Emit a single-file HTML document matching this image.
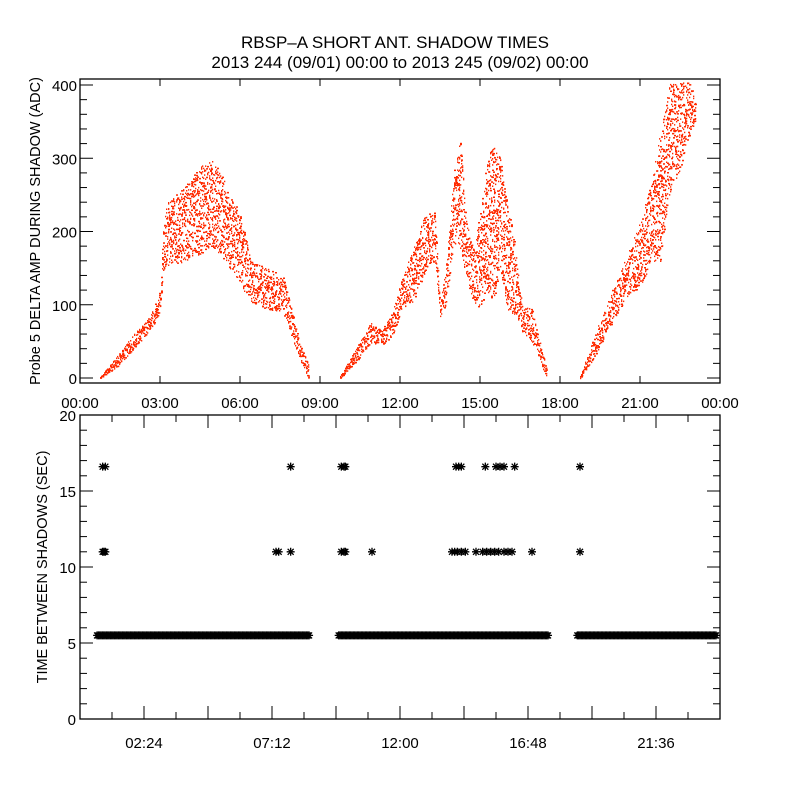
<!DOCTYPE html>
<html><head><meta charset="utf-8"><style>
body{margin:0;background:#fff}
svg text{font-family:"Liberation Sans",sans-serif;fill:#000}
</style></head><body>
<svg id="c" width="800" height="800" xmlns="http://www.w3.org/2000/svg">
<rect width="800" height="800" fill="#fff"/>
<text x="395" y="48" font-size="17" text-anchor="middle">RBSP–A SHORT ANT. SHADOW TIMES</text>
<text x="400" y="68" font-size="17" text-anchor="middle">2013 244 (09/01) 00:00 to 2013 245 (09/02) 00:00</text>
<g id="topPanel"></g>
<g id="botPanel"></g>
</svg>
<script>
// Top panel data: envelope of scatter (hours, low, high ADC)
const ampHours = [0.75,1.38,2.0,2.63,3.0,3.1,3.25,3.9,4.5,4.9,5.25,5.6,6.0,6.4,7.0,7.6,7.9,8.25,8.56,
  null,
  9.75,10.4,10.9,11.3,11.7,12.1,12.5,12.9,13.3,13.5,13.75,14.0,14.25,14.5,14.75,15.0,15.25,15.5,15.75,16.0,16.3,16.6,16.9,17.2,17.5,
  null,
  18.75,19.25,19.75,20.25,20.6,21.0,21.4,21.75,22.1,22.5,22.9,23.1];
const ampLow = [0,15,40,65,90,140,150,160,170,180,170,150,130,100,95,90,60,25,0,
  null,
  0,25,49,45,58,95,106,140,160,84,104,185,177,130,104,95,117,104,150,95,86,60,53,27,0,
  null,
  0,27,63,95,117,123,158,158,253,286,340,350];
const ampHigh = [2,30,60,85,120,200,240,260,290,300,285,250,225,160,150,140,100,45,20,
  null,
  3,45,76,65,90,140,180,220,230,100,164,280,327,210,177,230,300,320,300,240,185,95,100,58,14,
  null,
  3,55,104,145,177,213,267,335,404,404,404,370];
// Bottom panel data
const baseSegStart = [0.64, 9.7, 18.65];
const baseSegEnd = [8.7, 17.7, 24.0];
const baseValue = 5.5;
const outHours = [0.85,0.95,7.9,9.8,9.9,9.95,14.1,14.2,14.3,15.2,15.6,15.75,15.9,16.3,18.75,
  0.85,0.9,0.95,7.35,7.45,7.9,9.8,9.9,9.95,10.95,13.95,14.05,14.15,14.3,14.45,14.85,15.1,15.25,15.4,15.55,15.7,15.9,16.05,16.2,16.95,18.75];
const outValues = [16.6,16.6,16.6,16.6,16.6,16.6,16.6,16.6,16.6,16.6,16.6,16.6,16.6,16.6,16.6,
  11,11,11,11,11,11,11,11,11,11,11,11,11,11,11,11,11,11,11,11,11,11,11,11,11,11];
const topXTicks = ["00:00","03:00","06:00","09:00","12:00","15:00","18:00","21:00","00:00"];
const topYTicks = [0,100,200,300,400];
const botXTicks = ["02:24","07:12","12:00","16:48","21:36"];
const botYTicks = [0,5,10,15,20];

const NS="http://www.w3.org/2000/svg";
function mk(tag,attrs,parent){const e=document.createElementNS(NS,tag);for(const k in attrs)e.setAttribute(k,attrs[k]);parent.appendChild(e);return e;}
function hash(n){const s=Math.sin(n*12.9898+78.233)*43758.5453;return s-Math.floor(s);}
const L=80,R=720;
const T1=79,B1=383, T2=415,B2=719;
const xs=h=>L+h/24*(R-L);
const y1=v=>378-v*0.7325;
const y2=v=>B2-v*(B2-T2)/20;

const topG=document.getElementById('topPanel');
const botG=document.getElementById('botPanel');

let fr=mk('rect',{x:L,y:T1,width:R-L,height:B1-T1,fill:'none',stroke:'#000','stroke-width':1.3},topG);


topXTicks.forEach((t,i)=>{
  const x=xs(i*3);
  mk('line',{x1:x,y1:T1,x2:x,y2:T1+7,stroke:'#000'},topG);
  mk('line',{x1:x,y1:B1,x2:x,y2:B1-7,stroke:'#000'},topG);
  const tx=mk('text',{x:x,y:408,'font-size':15,'text-anchor':'middle'},topG);
  tx.textContent=t;
  
  
});
for(let v=0;v<=400;v+=20){
  const y=y1(v), len=(v%100===0)?13:7;
  mk('line',{x1:L,y1:y,x2:L+len,y2:y,stroke:'#000'},topG);
  mk('line',{x1:R,y1:y,x2:R-len,y2:y,stroke:'#000'},topG);
}
topYTicks.forEach(v=>{
  const tx=mk('text',{x:L-3,y:y1(v)+6,'font-size':15,'text-anchor':'end'},topG);
  tx.textContent=v;
  
  
});
let yl=mk('text',{x:0,y:0,'font-size':14.5,'text-anchor':'middle',transform:'translate(40,231) rotate(-90)'},topG);
yl.textContent='Probe 5 DELTA AMP DURING SHADOW (ADC)';



const sc=mk('g',{fill:'#ff2a00'},topG);


let k=0;
for(let i=0;i<ampHours.length-1;i++){
  if(ampHours[i]===null||ampHours[i+1]===null) continue;
  const xa=xs(ampHours[i]), xb=xs(ampHours[i+1]);
  for(let x=Math.ceil(xa);x<xb;x++){
    const f=(x-xa)/(xb-xa);
    const lo=ampLow[i]+f*(ampLow[i+1]-ampLow[i]);
    const hi=ampHigh[i]+f*(ampHigh[i+1]-ampHigh[i]);
    const ya=y1(lo), yb=y1(hi);
    const span=ya-yb;
    const n=Math.max(3,Math.round(span/7)+3);
    for(let j=0;j<n;j++){
      k++;
      const u=hash(k);
      const w=hash(k+0.5)<0.3?2:1.3;
      const yy=ya-u*span;
      mk('rect',{x:x,y:yy.toFixed(1),width:w,height:1.5},sc);
    }
  }
}

fr=mk('rect',{x:L,y:T2,width:R-L,height:B2-T2,fill:'none',stroke:'#000','stroke-width':1.3},botG);


for(let i=1;i<20;i++){
  const x=xs(i*1.2), len=(i%2===0)?13:7;
  mk('line',{x1:x,y1:T2,x2:x,y2:T2+len,stroke:'#000'},botG);
  mk('line',{x1:x,y1:B2,x2:x,y2:B2-len,stroke:'#000'},botG);
}
botXTicks.forEach((t,i)=>{
  const tx=mk('text',{x:xs(2.4+i*4.8),y:748,'font-size':15,'text-anchor':'middle'},botG);
  tx.textContent=t;
  
  
});
for(let v=0;v<=20;v+=1){
  const y=y2(v), len=(v%5===0)?13:7;
  mk('line',{x1:L,y1:y,x2:L+len,y2:y,stroke:'#000'},botG);
  mk('line',{x1:R,y1:y,x2:R-len,y2:y,stroke:'#000'},botG);
}
botYTicks.forEach(v=>{
  const tx=mk('text',{x:L-4,y:y2(v)+6,'font-size':15,'text-anchor':'end'},botG);
  tx.textContent=v;
  
  
});
yl=mk('text',{x:0,y:0,'font-size':14.5,'text-anchor':'middle',transform:'translate(47,567) rotate(-90)'},botG);
yl.textContent='TIME BETWEEN SHADOWS (SEC)';



const st=mk('g',{stroke:'#000','stroke-width':1.3,fill:'none'},botG);


function star(x,y){
  const s=4;
  mk('path',{d:`M${x-s} ${y}H${x+s}M${x} ${y-s}V${y+s}M${x-s*0.75} ${y-s*0.75}L${x+s*0.75} ${y+s*0.75}M${x-s*0.75} ${y+s*0.75}L${x+s*0.75} ${y-s*0.75}`},st);
}
for(let s=0;s<baseSegStart.length;s++){
  for(let h=baseSegStart[s];h<=baseSegEnd[s]-0.1;h+=0.05) star(xs(h),y2(baseValue));
}
outHours.forEach((h,i)=>star(xs(h),y2(outValues[i])));
</script>
</body></html>
